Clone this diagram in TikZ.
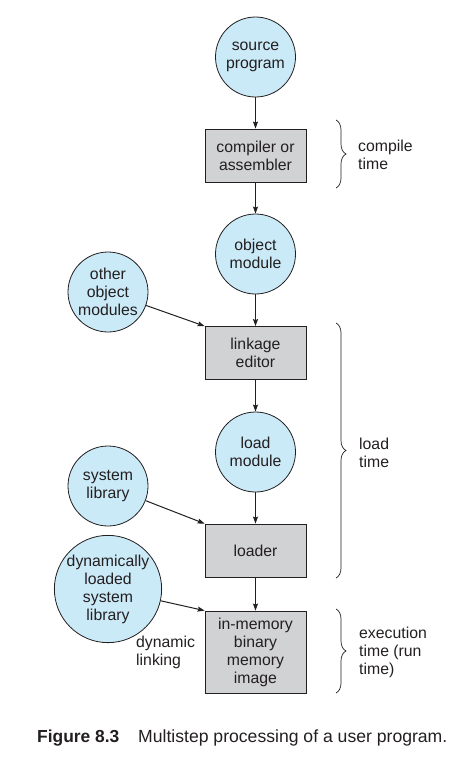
\documentclass[tikz,border=0pt]{standalone}
\usepackage{fontspec}
\setmainfont{Liberation Sans}
\usetikzlibrary{arrows.meta,decorations.pathreplacing}
\definecolor{circfill}{RGB}{203,234,248}
\definecolor{boxfill}{RGB}{209,210,212}
\definecolor{ink}{RGB}{35,31,32}
\begin{document}
\begin{tikzpicture}[x=1pt,y=-1pt,
  txt/.style={font=\fontsize{15.8}{18}\selectfont, align=center, text=ink},
  circ/.style={txt, circle, draw=ink, line width=0.8pt, fill=circfill, minimum size=80pt, inner sep=0pt},
  stepbox/.style={txt, rectangle, draw=ink, line width=0.8pt, fill=boxfill, minimum width=101pt, minimum height=53pt, inner sep=0pt},
  arr/.style={draw=ink, line width=1pt, -{Stealth[length=7pt,width=5pt,inset=1pt]}},
  brc/.style={draw=ink, line width=0.7pt, decorate, decoration={brace, amplitude=10pt}},
  lbl/.style={font=\fontsize{15.8}{18}\selectfont, align=left, text=ink, inner sep=0pt, anchor=west}
]
\useasboundingbox (0,0) rectangle (466,766);

\node[circ] (src) at (255.5,57) {source\\program};
\node[stepbox] (comp) at (255.5,155.5) {compiler or\\assembler};
\node[circ] (obj) at (255.5,254) {object\\module};
\node[circ] (oom) at (108,292) {other\\object\\modules};
\node[stepbox] (link) at (255.5,353) {linkage\\editor};
\node[circ] (ldm) at (255.5,452) {load\\module};
\node[circ] (syslib) at (108,486) {system\\library};
\node[stepbox] (loader) at (255.5,550.5) {loader};
\node[circ, minimum size=96pt] (dyn) at (108,589) {dynamically\\loaded\\system\\library};
\node[stepbox, minimum height=82pt] (mem) at (255.5,652) {in-memory\\binary\\memory\\image};

\draw[arr] (src) -- (comp);
\draw[arr] (comp) -- (obj);
\draw[arr] (obj) -- (link);
\draw[arr] (oom) -- (link.north west);
\draw[arr] (link) -- (ldm);
\draw[arr] (ldm) -- (loader);
\draw[arr] (syslib) -- (loader.north west);
\draw[arr] (loader) -- (mem);
\draw[arr] (dyn) -- (mem.north west);

\node[lbl] (dynlink) at (136,652) {dynamic\\linking};

\coordinate (b1t) at (336,120);
\coordinate (b1b) at (336,188);
\coordinate (b2t) at (336,323);
\coordinate (b2b) at (336,578);
\coordinate (b3t) at (336,609);
\coordinate (b3b) at (336,693);
\draw[brc] (b1t) -- (b1b);
\draw[brc] (b2t) -- (b2b);
\draw[brc] (b3t) -- (b3b);

\node[lbl] (ct) at (358,155) {compile\\time};
\node[lbl] (lt) at (359,452.5) {load\\time};
\node[lbl] (et) at (359,652) {execution\\time (run\\time)};

\node[font=\fontsize{17.4}{20}\selectfont\bfseries, text=ink, inner sep=0pt, anchor=base west] (fig) at (37,742) {Figure 8.3};
\node[font=\fontsize{17.6}{20}\selectfont, text=ink, inner sep=0pt, anchor=base west] (cap) at (138,742) {Multistep processing of a user program.};
\end{tikzpicture}
\end{document}
